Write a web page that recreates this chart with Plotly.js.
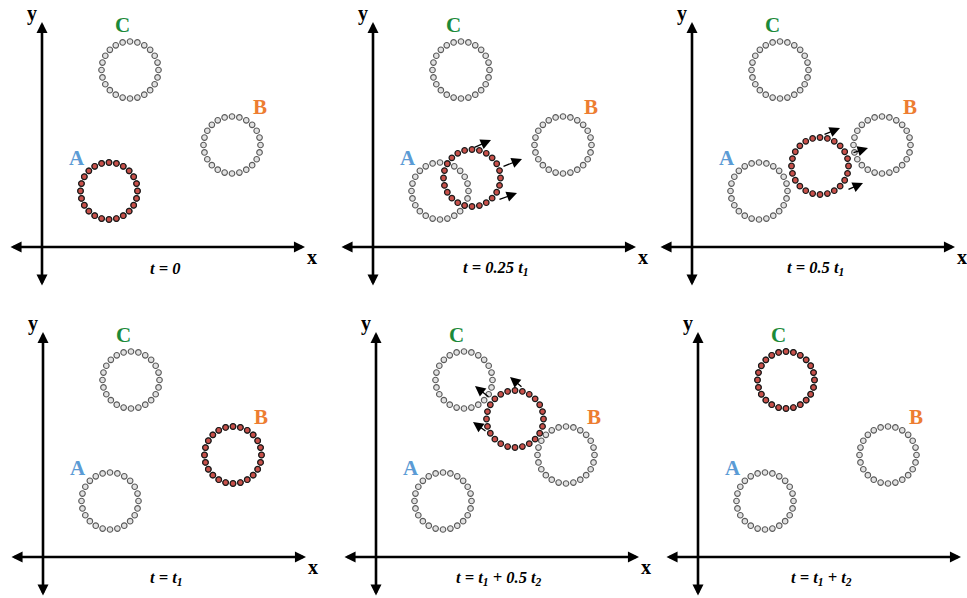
<!DOCTYPE html>
<html><head><meta charset="utf-8">
<script src="https://cdn.plot.ly/plotly-3.0.1.min.js"></script>
<style>html,body{margin:0;padding:0;background:#fff}#chart{width:967px;height:598px}</style>
</head><body><div id="chart"></div>
<script>
// ---- data ----
const ringNames = ['A', 'B', 'C'];
const ringX = [67, 190, 88];
const ringY = [56, 102, 177];
const ringRadius = 28.5;
const dotsPerRing = 24;
const timeLabels = [
  't = 0',
  't = 0.25 t<sub>1</sub>',
  't = 0.5 t<sub>1</sub>',
  't = t<sub>1</sub>',
  't = t<sub>1</sub> + 0.5 t<sub>2</sub>',
  't = t<sub>1</sub> + t<sub>2</sub>'
];
// position of the highlighted (red) ring in each panel
const redX = [67, 99, 128, 190, 139, 88];
const redY = [56, 69, 81, 102, 138, 177];
// motion arrows: panel index, tail and head
const arrowPanel = [1, 1, 1, 2, 2, 2, 4, 4, 4];
const arrowTailX = [100, 129, 125, 131, 160, 155, 114, 147, 111];
const arrowTailY = [99, 80, 47, 112, 94, 57, 159, 169, 125];
const arrowHeadX = [118, 149, 144, 148, 176, 171, 99, 134, 97];
const arrowHeadY = [107, 88, 54, 119, 99, 64, 171, 180, 135];

// ---- layout config ----
const W = 967, H = 598;
const originPX = [42, 373, 692, 43, 376, 698];
const originPY = [247, 247, 247, 557, 557, 557];
const winX0 = [0, 330, 652, 0, 330, 652];
const winX1 = [326, 650, 967, 326, 650, 967];
const winY0 = [0, 0, 0, 300, 300, 300];
const winY1 = [299, 299, 299, 598, 598, 598];
const labelColors = ['#5b9bd5', '#ed7d31', '#1b8a3a'];
const labelDX = [-32, 28, -8];
const labelDY = [33, 38, 45];
const serif = 'Liberation Serif, Times New Roman, serif';

const traces = [];
const layout = {
  width: W, height: H,
  margin: {l: 0, r: 0, t: 0, b: 0},
  paper_bgcolor: '#fff', plot_bgcolor: 'rgba(0,0,0,0)',
  showlegend: false,
  annotations: []
};

function ring(cx, cy, xa, ya, red) {
  const xs = [], ys = [];
  for (let i = 0; i < dotsPerRing; i++) {
    const th = Math.PI / 2 + 2 * Math.PI * i / dotsPerRing;
    xs.push(cx + ringRadius * Math.cos(th));
    ys.push(cy + ringRadius * Math.sin(th));
  }
  return {
    type: 'scatter', mode: 'markers', x: xs, y: ys, xaxis: xa, yaxis: ya,
    hoverinfo: 'skip', cliponaxis: false,
    marker: red ? {size: 5.6, color: '#c8504a', line: {color: '#1a1a1a', width: 1.2}}
                : {size: 5.6, color: '#e2e2e2', line: {color: '#5a5a5a', width: 1.1}}
  };
}

for (let p = 0; p < 6; p++) {
  const n = p === 0 ? '' : String(p + 1);
  const xa = 'x' + n, ya = 'y' + n;
  const ox = originPX[p], oy = originPY[p];
  layout['xaxis' + n] = {
    domain: [winX0[p] / W, winX1[p] / W], range: [winX0[p] - ox, winX1[p] - ox],
    visible: false, fixedrange: true, anchor: ya
  };
  layout['yaxis' + n] = {
    domain: [1 - winY1[p] / H, 1 - winY0[p] / H], range: [oy - winY1[p], oy - winY0[p]],
    visible: false, fixedrange: true, anchor: xa
  };
  for (let k = 0; k < 3; k++) {
    traces.push(ring(ringX[k], ringY[k], xa, ya, false));
    layout.annotations.push({
      xref: xa, yref: ya, x: ringX[k] + labelDX[k], y: ringY[k] + labelDY[k],
      text: '<b>' + ringNames[k] + '</b>', showarrow: false,
      font: {family: serif, size: 21, color: labelColors[k]}
    });
  }
  traces.push(ring(redX[p], redY[p], xa, ya, true));

  // axes arrows
  const axStyle = {xref: xa, yref: ya, axref: xa, ayref: ya, showarrow: true, text: '',
    arrowhead: 2, startarrowhead: 2, arrowside: 'end+start', arrowsize: 0.85, startarrowsize: 0.85,
    arrowwidth: 2.6, arrowcolor: '#000', standoff: 0, startstandoff: 0};
  layout.annotations.push(Object.assign({}, axStyle, {x: 263, y: 0, ax: -33, ay: 0}));
  layout.annotations.push(Object.assign({}, axStyle, {x: 0, y: 225, ax: 0, ay: -40}));
  layout.annotations.push({xref: xa, yref: ya, x: -10, y: 234, text: '<b>y</b>', showarrow: false,
    font: {family: serif, size: 20, color: '#000'}});
  layout.annotations.push({xref: xa, yref: ya, x: 270, y: -10, text: '<b>x</b>', showarrow: false,
    font: {family: serif, size: 20, color: '#000'}});
  layout.annotations.push({xref: xa, yref: ya, x: 123, y: -21, text: '<b><i>' + timeLabels[p] + '</i></b>',
    showarrow: false, font: {family: serif, size: 16.5, color: '#000'}});
}

for (let i = 0; i < arrowPanel.length; i++) {
  const p = arrowPanel[i];
  const n = p === 0 ? '' : String(p + 1);
  layout.annotations.push({
    xref: 'x' + n, yref: 'y' + n, axref: 'x' + n, ayref: 'y' + n,
    x: arrowHeadX[i], y: arrowHeadY[i], ax: arrowTailX[i], ay: arrowTailY[i],
    text: '', showarrow: true, arrowhead: 2, arrowsize: 1.6, arrowwidth: 1.3,
    arrowcolor: '#000', standoff: 0, startstandoff: 0
  });
}

Plotly.newPlot('chart', traces, layout, {staticPlot: true, displayModeBar: false});
</script>
</body></html>
